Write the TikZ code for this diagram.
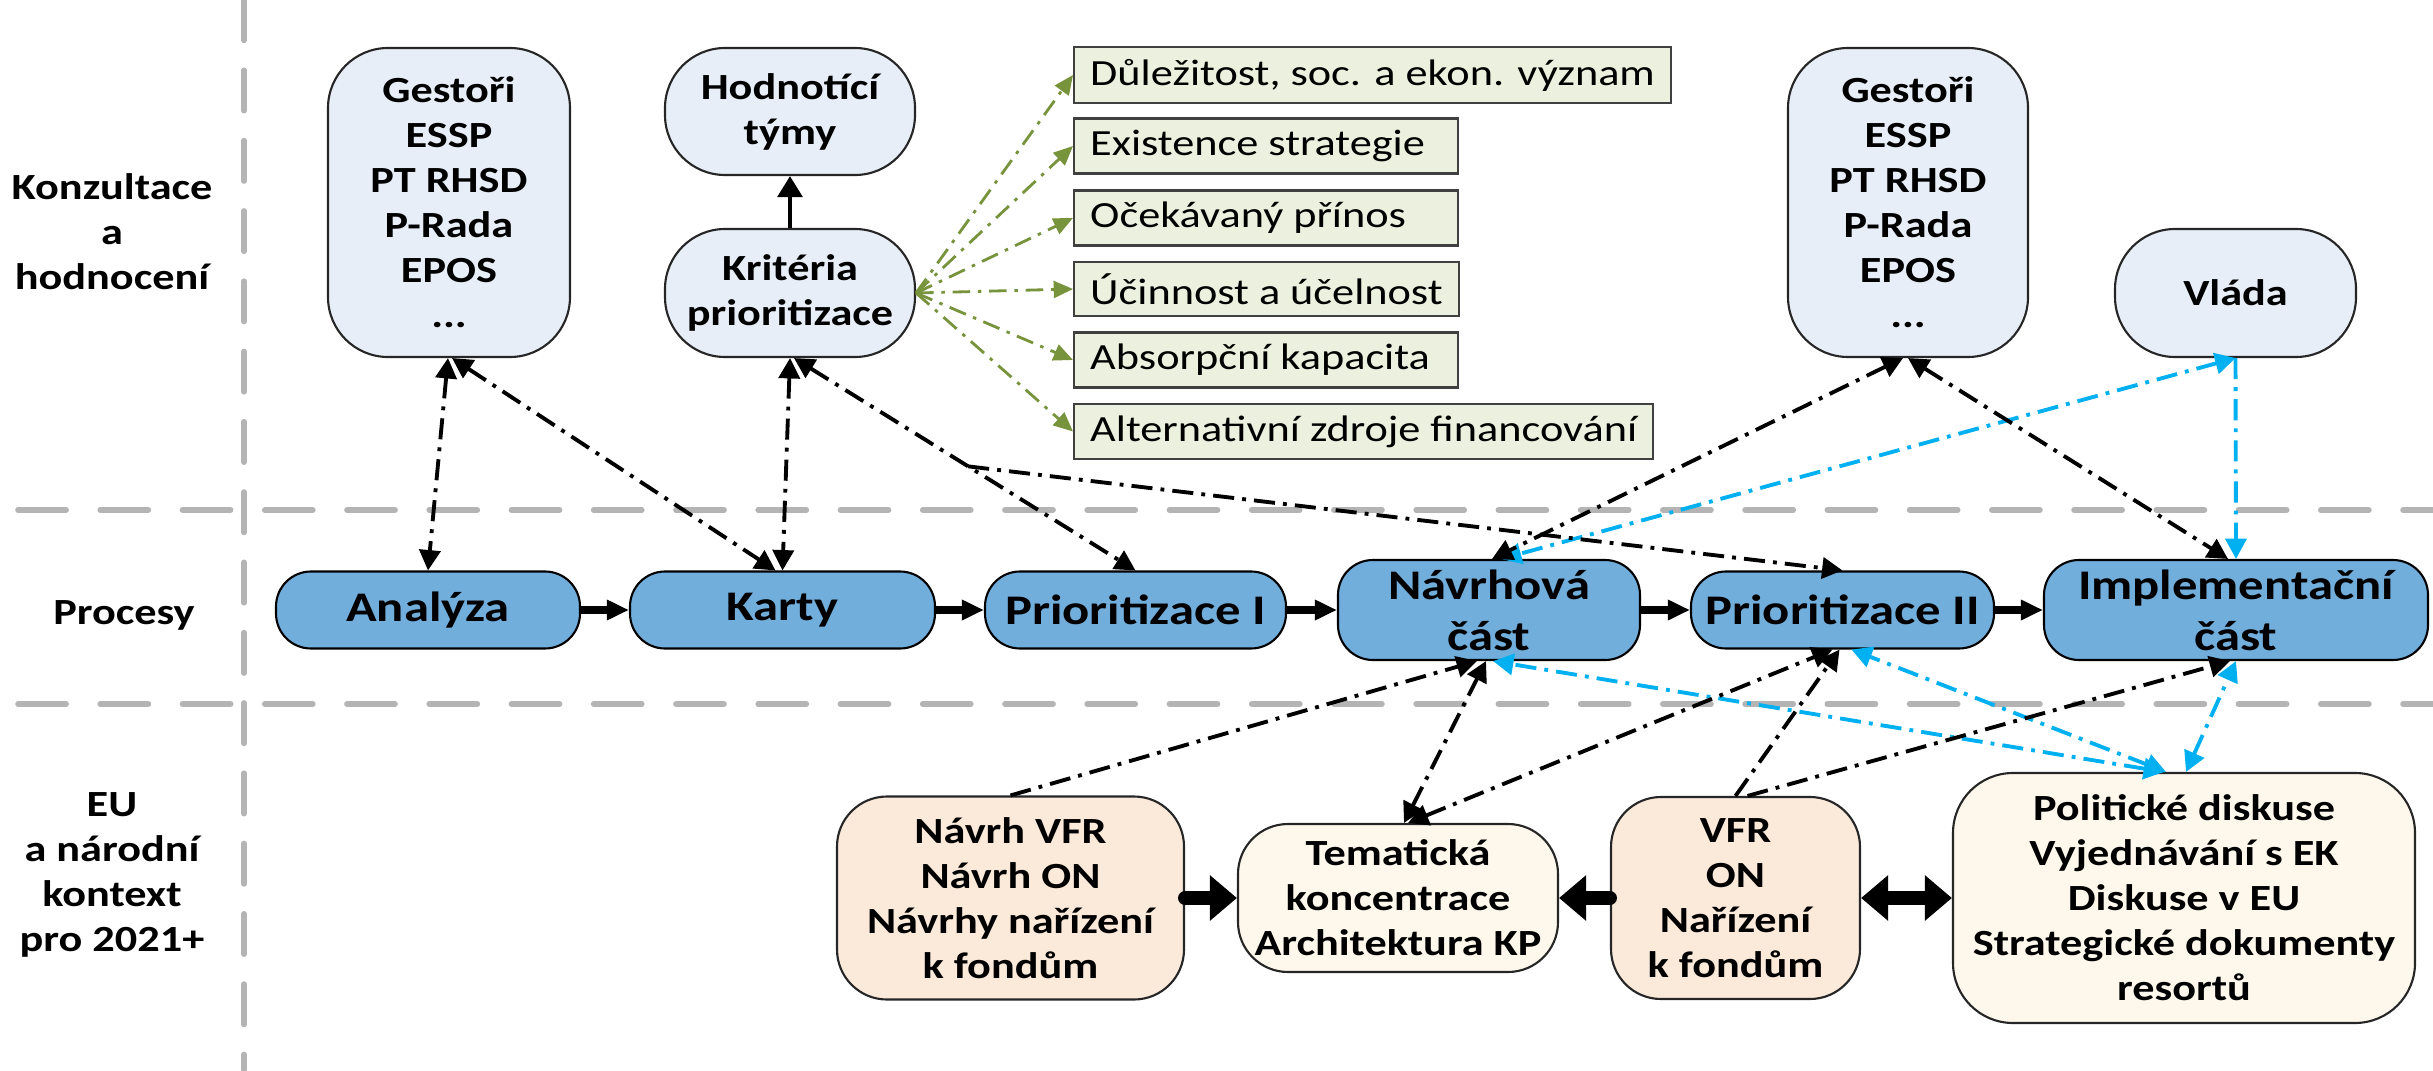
\documentclass[tikz,border=0pt]{standalone}
\usepackage{fontspec}
\setmainfont{Carlito}[FakeStretch=1.2]
\usepackage{tikz}
\usetikzlibrary{arrows.meta, positioning, calc}

\definecolor{konzfill}{RGB}{232,238,248}
\definecolor{procfill}{RGB}{114,174,220}
\definecolor{critfill}{RGB}{235,241,222}
\definecolor{eufill}{RGB}{251,233,218}
\definecolor{ctxfill}{RGB}{254,248,236}
\definecolor{critline}{RGB}{119,147,60}
\definecolor{govline}{RGB}{0,176,240}
\definecolor{laneline}{RGB}{180,180,180}

\newcommand\boxfont{\bfseries\fontsize{10.5}{12.8}\selectfont}
\newcommand\procfont{\bfseries\fontsize{12}{14.5}\selectfont}
% criteria text: left aligned, at least 3.52cm wide
\newcommand\critlabel[1]{\setbox0\hbox{#1}\ifdim\wd0<3.52cm\makebox[3.52cm][l]{#1}\else#1\fi}

\tikzset{
  lane/.style={laneline, line width=1.6pt, line cap=round},
  lanetitle/.style={align=center, font=\boxfont},
  konzbox/.style={draw=black!85, line width=0.6pt, fill=konzfill, rounded corners=0.6cm,
    align=center, inner sep=0pt, font=\boxfont},
  procbox/.style={draw=black, line width=0.6pt, fill=procfill, rounded corners=0.35cm,
    align=center, inner sep=0pt, minimum height=0.77cm, font=\procfont},
  critbox/.style={draw=black!75, line width=0.7pt, fill=critfill, anchor=west,
    minimum height=0.54cm, inner xsep=0.16cm,
    font=\fontsize{10.5}{12.8}\selectfont},
  eubox/.style={draw=black!85, line width=0.6pt, fill=eufill, rounded corners=0.5cm,
    align=center, inner sep=0pt, font=\boxfont},
  ctxbox/.style={draw=black!85, line width=0.6pt, fill=ctxfill, rounded corners=0.5cm,
    align=center, inner sep=0pt, font=\boxfont},
  flow/.style={line width=2.3pt, -{Triangle[length=6.3pt,width=5.5pt]}},
  bigflow/.style={line width=4pt, line cap=round, -{Triangle[length=7.7pt,width=12.5pt]}},
  bigboth/.style={line width=4pt, {Triangle[length=7.7pt,width=12.5pt]}-{Triangle[length=7.7pt,width=12.5pt]}},
  link/.style={line width=1.1pt, dash pattern=on 6pt off 2.3pt on 1.1pt off 2.3pt},
  govlink/.style={link, govline},
  critlink/.style={critline, line width=0.8pt, dash pattern=on 5pt off 2.2pt on 1pt off 2.2pt,
    -{Triangle[length=5.5pt,width=4.8pt]}}
}

\begin{document}
\begin{tikzpicture}[>={Triangle[length=5.8pt,width=6pt]}]
    \useasboundingbox (0,0) rectangle (24.33,10.70);
    % lanes
    \draw[lane, dash pattern=on 11.5pt off 8.5pt] (2.44,10.70) -- (2.44,0);
    \draw[lane, dash pattern=on 13.7pt off 9.7pt] (0.18,5.60) -- (24.33,5.60);
    \draw[lane, dash pattern=on 13.7pt off 9.7pt] (0.18,3.66) -- (24.33,3.66);
    \node[lanetitle] (tkonz) at (1.12,8.38) {Konzultace\\a\\hodnocení};
    \node[lanetitle] (tproc) at (1.24,4.55) {Procesy};
    \node[lanetitle] (teu) at (1.12,1.95) {EU\\a národní\\kontext\\pro 2021+};

    % consultation
    \node[konzbox, minimum width=2.42cm, minimum height=3.09cm] (gestL) at (4.49,8.675)
        {Gestoři\\ESSP\\PT RHSD\\P-Rada\\EPOS\\...};
    \node[konzbox, minimum width=2.50cm, minimum height=1.27cm] (hodn) at (7.90,9.585) {Hodnotící\\týmy};
    \node[konzbox, minimum width=2.50cm, minimum height=1.28cm] (krit) at (7.90,7.77) {Kritéria\\prioritizace};
    \node[konzbox, minimum width=2.40cm, minimum height=3.09cm] (gestR) at (19.08,8.675)
        {Gestoři\\ESSP\\PT RHSD\\P-Rada\\EPOS\\...};
    \node[konzbox, minimum width=2.41cm, minimum height=1.28cm] (vlada) at (22.355,7.77) {Vláda};
    \draw[line width=1.3pt, -{Triangle[length=6pt,width=7pt]}] (krit) -- (hodn);
    \foreach \y/\n/\t in {9.95/1/{Důležitost, soc. a ekon. význam}, 9.24/2/Existence strategie,
                          8.52/3/Očekávaný přínos, 7.81/4/Účinnost a účelnost,
                          7.10/5/Absorpční kapacita, 6.385/6/Alternativní zdroje financování} {
        \node[critbox] (crit\n) at (10.73,\y) {\critlabel{\t}};
        \draw[critlink] (krit.east) -- (crit\n.west);
    }

    % processes
    \node[procbox, minimum width=3.04cm] (analyza) at (4.28,4.60) {Analýza};
    \node[procbox, minimum width=3.05cm] (karty) at (7.825,4.60) {Karty};
    \node[procbox, minimum width=3.01cm] (prio1) at (11.355,4.60) {Prioritizace I};
    \node[procbox, minimum width=3.02cm, minimum height=1.00cm] (navrh) at (14.89,4.60) {Návrhová\\část};
    \node[procbox, minimum width=3.03cm] (prio2) at (18.425,4.60) {Prioritizace II};
    \node[procbox, minimum width=3.84cm, minimum height=1.00cm] (impl) at (22.36,4.60) {Implementační\\část};
    \foreach \a/\b in {analyza/karty, karty/prio1, prio1/navrh, navrh/prio2, prio2/impl}
        \draw[flow] (\a) -- (\b);

    % EU and national context
    \node[eubox, minimum width=3.47cm, minimum height=2.03cm] (navrhVFR) at (10.105,1.72)
        {Návrh VFR\\Návrh ON\\Návrhy nařízení\\k fondům};
    \node[ctxbox, minimum width=3.20cm, minimum height=1.48cm] (temat) at (13.98,1.72)
        {Tematická\\koncentrace\\Architektura KP};
    \node[eubox, minimum width=2.49cm, minimum height=2.02cm] (vfr) at (17.355,1.72)
        {VFR\\ON\\Nařízení\\k fondům};
    \node[ctxbox, minimum width=4.62cm, minimum height=2.50cm, rounded corners=0.6cm] (polit) at (21.84,1.72)
        {Politické diskuse\\Vyjednávání s EK\\Diskuse v EU\\Strategické dokumenty\\resortů};
    \draw[bigflow] (navrhVFR) -- (temat);
    \draw[bigflow] (vfr) -- (temat);
    \draw[bigboth] (vfr) -- (polit);

    % links to consultation
    \draw[govlink, <->] (vlada.south) -- ([xshift=0.12cm]navrh.north);
    \draw[govlink, ->] (vlada.south) -- (impl.north);
    \draw[link, <->] ([xshift=-0.01cm]gestL.south) -- (analyza.north);
    \draw[link, <->] ([xshift=0.03cm]gestL.south) -- ([xshift=-0.07cm]karty.north);
    \draw[link, <->] (krit.south) -- (karty.north);
    \draw[link, <->] ([xshift=0.04cm]krit.south) -- (prio1.north);
    \draw[link, ->] ($([xshift=0.04cm]krit.south)!0.51!(prio1.north)$) -- (prio2.north);
    \draw[link, <->] ([xshift=-0.05cm]gestR.south) -- ([xshift=0.03cm]navrh.north);
    \draw[link, <->] (gestR.south) -- ([xshift=-0.08cm]impl.north);

    % links to context
    \draw[govlink, <->] ([xshift=-0.2cm]polit.north) -- ([xshift=0.04cm]navrh.south);
    \draw[govlink, <->] ([xshift=-0.18cm]polit.north) -- ([xshift=0.09cm]prio2.south);
    \draw[govlink, <->] ([xshift=0.02cm]polit.north) -- (impl.south);
    \draw[link, ->] (navrhVFR.north) -- ([xshift=-0.12cm]navrh.south);
    \draw[link, <->] ([xshift=0.06cm]temat.north) -- ([xshift=-0.03cm]navrh.south);
    \draw[link, <->] ([xshift=0.1cm]temat.north) -- ([xshift=-0.1cm]prio2.south);
    \draw[link, ->] (vfr.north) -- ([xshift=-0.03cm]prio2.south);
    \draw[link, ->] ([xshift=0.12cm]vfr.north) -- ([xshift=-0.06cm]impl.south);
\end{tikzpicture}
\end{document}
